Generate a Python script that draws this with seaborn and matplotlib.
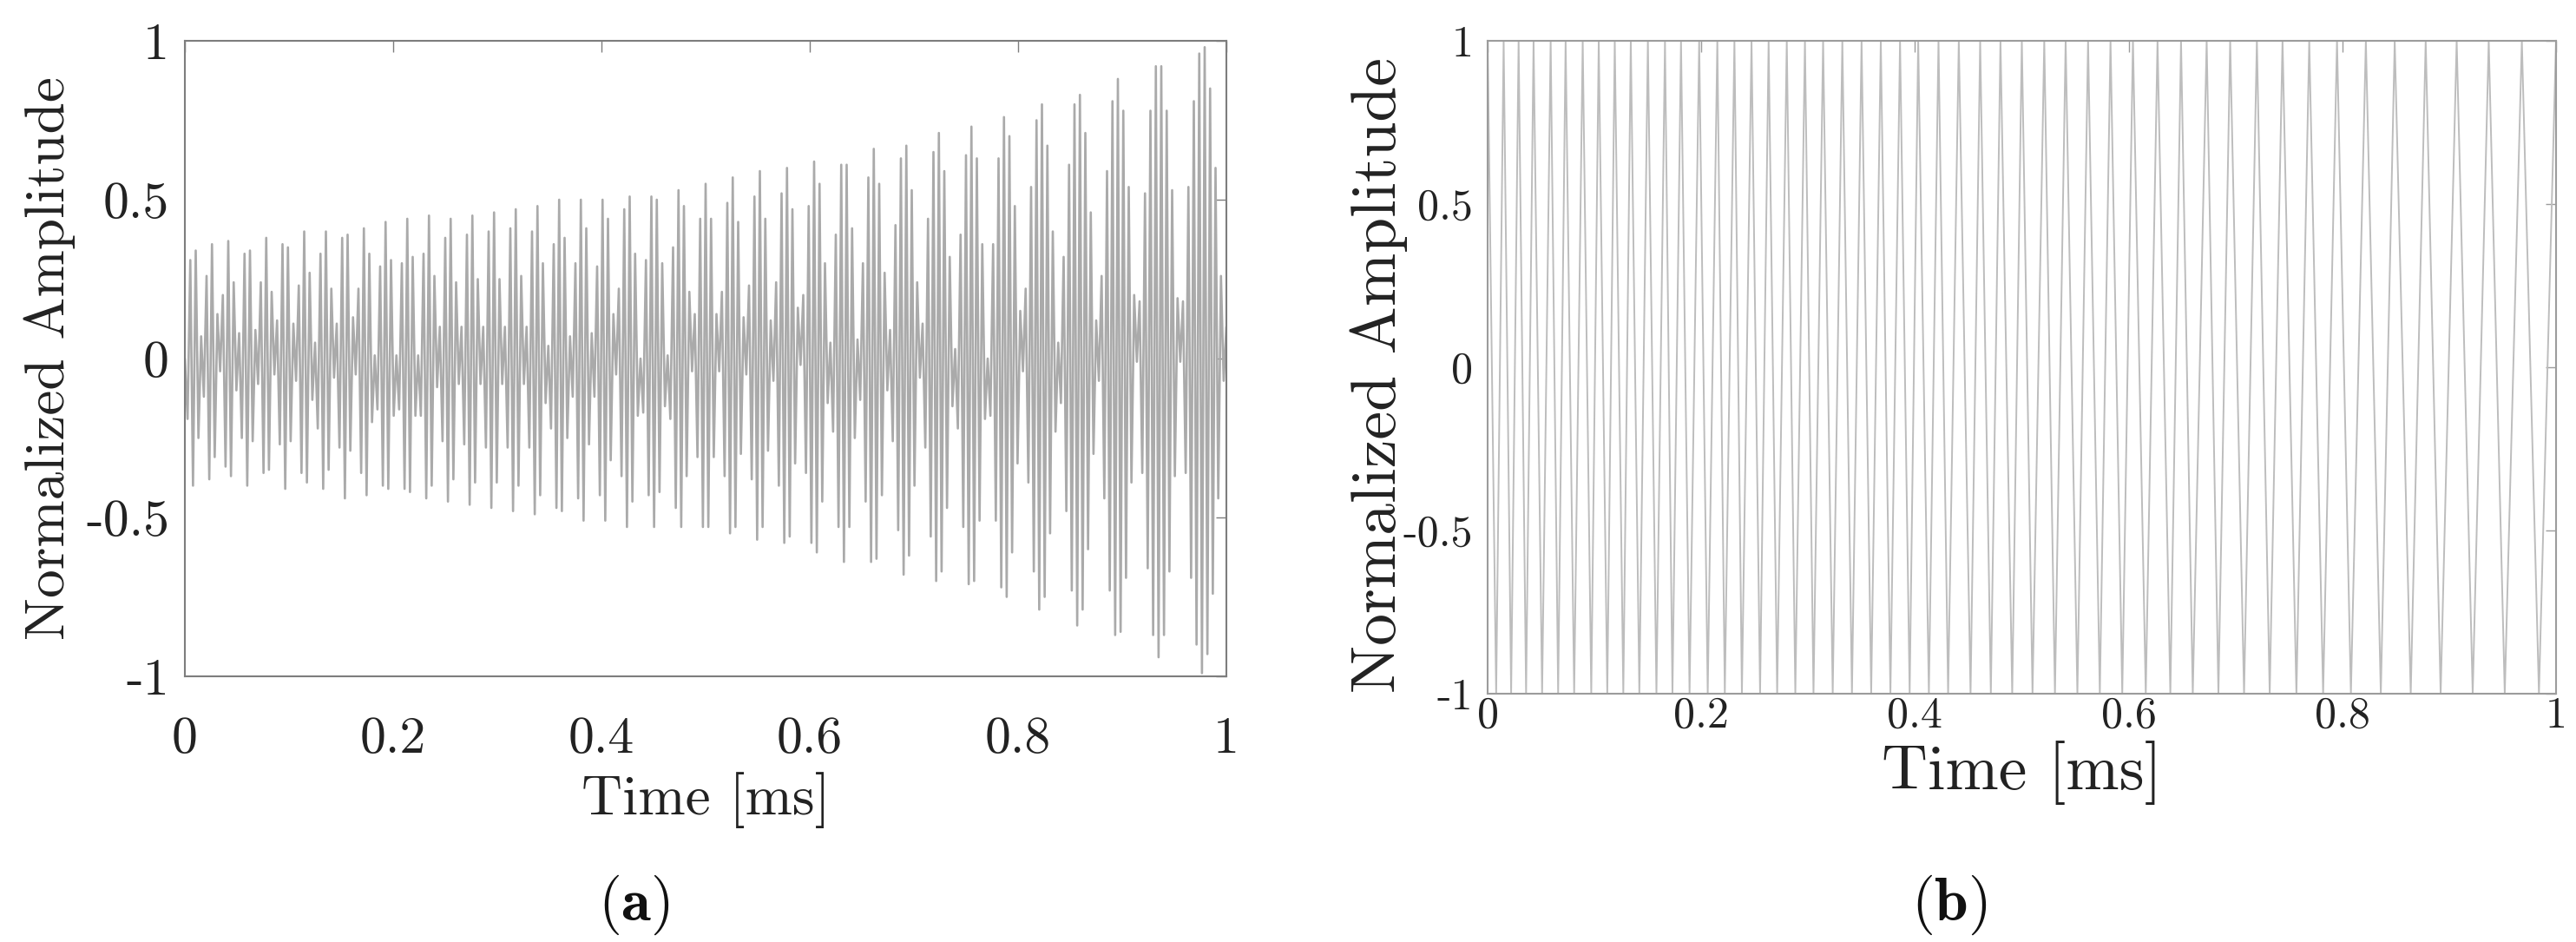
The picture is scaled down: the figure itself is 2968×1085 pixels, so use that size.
import numpy as np
import pandas as pd
import matplotlib
matplotlib.use("Agg")
import matplotlib.pyplot as plt
import seaborn as sns

# ---------------- data ----------------
# (a) successive extrema of the measured signal (uniform sampling of extrema over 0..1 ms)
a_values = [
    0.00, -0.19, 0.31, -0.40, 0.34, -0.25, 0.07,
    -0.12, 0.26, -0.38, 0.36, -0.31, 0.14,
    -0.04, 0.20, -0.34, 0.37, -0.37, 0.24, -0.10,
    0.08, -0.25, 0.33, -0.40, 0.34, -0.26, 0.09,
    -0.08, 0.24, -0.36, 0.38, -0.35, 0.21, -0.05,
    0.12, -0.27, 0.36, -0.41, 0.35, -0.26, 0.11,
    -0.07, 0.23, -0.36, 0.40, -0.39, 0.27, -0.13,
    0.05, -0.22, 0.33, -0.41, 0.40, -0.35, 0.22, -0.06,
    0.11, -0.28, 0.38, -0.44, 0.39, -0.29, 0.13,
    -0.05, 0.22, -0.36, 0.41, -0.43, 0.33, -0.20, 0.01,
    -0.16, 0.29, -0.40, 0.43, -0.41, 0.31, -0.18, 0.01,
    -0.16, 0.30, -0.41, 0.44, -0.42, 0.32, -0.18, 0.01,
    -0.18, 0.33, -0.44, 0.45, -0.40, 0.26, -0.09,
    0.10, -0.26, 0.38, -0.45, 0.44, -0.38, 0.24, -0.08,
    0.10, -0.27, 0.39, -0.46, 0.45, -0.39, 0.25, -0.08,
    0.10, -0.28, 0.40, -0.47, 0.46, -0.39, 0.25, -0.08,
    0.10, -0.28, 0.41, -0.48, 0.47, -0.40, 0.26, -0.08,
    0.10, -0.28, 0.40, -0.49, 0.48, -0.43, 0.30, -0.14,
    0.04, -0.22, 0.36, -0.47, 0.50, -0.48, 0.38, -0.25, 0.07,
    -0.12, 0.30, -0.44, 0.50, -0.51, 0.41, -0.27, 0.08,
    -0.12, 0.29, -0.43, 0.50, -0.51, 0.44, -0.32, 0.14,
    -0.05, 0.22, -0.37, 0.47, -0.53, 0.51, -0.45, 0.33, -0.18,
    0.00, -0.17, 0.31, -0.43, 0.51, -0.53, 0.50, -0.42, 0.30, -0.15,
    0.01, -0.19, 0.35, -0.47, 0.53, -0.53, 0.48, -0.37, 0.21, -0.04,
    0.14, -0.31, 0.44, -0.53, 0.55, -0.53, 0.44, -0.31, 0.14,
    -0.04, 0.21, -0.37, 0.49, -0.55, 0.57, -0.53, 0.43, -0.30, 0.13,
    -0.05, 0.23, -0.38, 0.51, -0.57, 0.59, -0.53, 0.44, -0.29, 0.12,
    -0.07, 0.24, -0.40, 0.52, -0.58, 0.60, -0.56, 0.47, -0.33, 0.16,
    -0.02, 0.20, -0.36, 0.48, -0.58, 0.62, -0.61, 0.55, -0.45, 0.30, -0.14,
    0.05, -0.23, 0.39, -0.53, 0.61, -0.64, 0.61, -0.53, 0.41, -0.25, 0.06,
    -0.13, 0.30, -0.45, 0.57, -0.64, 0.66, -0.63, 0.55, -0.43, 0.27, -0.10,
    0.09, -0.26, 0.42, -0.54, 0.63, -0.68, 0.67, -0.62, 0.53, -0.40, 0.24, -0.06,
    0.11, -0.28, 0.44, -0.56, 0.65, -0.70, 0.71, -0.67, 0.59, -0.47, 0.32, -0.15,
    0.03, -0.22, 0.39, -0.53, 0.64, -0.71, 0.73, -0.70, 0.63, -0.51, 0.36, -0.19,
    0.00, -0.18, 0.36, -0.51, 0.63, -0.72, 0.76, -0.75, 0.70, -0.61, 0.48, -0.33, 0.15,
    -0.04, 0.22, -0.39, 0.54, -0.67, 0.75, -0.79, 0.80, -0.75, 0.67, -0.55, 0.40, -0.23, 0.05,
    -0.14, 0.32, -0.48, 0.61, -0.73, 0.80, -0.84, 0.83, -0.79, 0.71, -0.60, 0.46, -0.30, 0.12,
    -0.07, 0.26, -0.44, 0.59, -0.73, 0.81, -0.87, 0.88, -0.86, 0.78, -0.69, 0.54, -0.39, 0.20, -0.01,
    0.18, -0.36, 0.52, -0.66, 0.78, -0.87, 0.92, -0.94, 0.92, -0.87, 0.78, -0.67, 0.53, -0.37, 0.19, -0.01,
    0.18, -0.36, 0.54, -0.69, 0.81, -0.90, 0.96, -0.99, 0.98, -0.93, 0.85, -0.74, 0.60, -0.44, 0.26, -0.07,
    0.10,
]

# (b) chirp: times [ms] of the maxima (+1) and minima (-1)
b_peak_times = [
    0.000, 0.015, 0.029, 0.043, 0.059, 0.073, 0.089, 0.104, 0.119, 0.134,
    0.150, 0.166, 0.181, 0.198, 0.215, 0.231, 0.247, 0.263, 0.280, 0.297,
    0.314, 0.332, 0.350, 0.368, 0.386, 0.403, 0.422, 0.441, 0.461, 0.480,
    0.500, 0.521, 0.541, 0.562, 0.583, 0.604, 0.627, 0.649, 0.673, 0.695,
    0.720, 0.744, 0.769, 0.795, 0.822, 0.849, 0.878, 0.907, 0.937, 0.968,
    1.000,
]
b_trough_times = [
    0.008, 0.022, 0.036, 0.051, 0.066, 0.081, 0.097, 0.112, 0.127, 0.142,
    0.158, 0.173, 0.189, 0.206, 0.222, 0.238, 0.255, 0.271, 0.288, 0.305,
    0.323, 0.341, 0.359, 0.377, 0.395, 0.413, 0.431, 0.452, 0.471, 0.491,
    0.510, 0.531, 0.552, 0.573, 0.594, 0.616, 0.639, 0.660, 0.684, 0.708,
    0.732, 0.757, 0.782, 0.808, 0.836, 0.864, 0.892, 0.922, 0.952, 0.984,
]

x_ticks = [0, 0.2, 0.4, 0.6, 0.8, 1]
x_tick_labels = ['0', '0.2', '0.4', '0.6', '0.8', '1']
y_ticks = [-1, -0.5, 0, 0.5, 1]
y_tick_labels = ['-1', '-0.5', '0', '0.5', '1']
x_label = 'Time [ms]'
y_label = 'Normalized Amplitude'
panel_tags = ['a', 'b']

# ---------------- style ----------------
sns.set_theme(style='white')
plt.rcParams['font.family'] = ['cmr10', 'DejaVu Serif']
plt.rcParams['mathtext.fontset'] = 'cm'
plt.rcParams['axes.unicode_minus'] = False
plt.rcParams['axes.formatter.use_mathtext'] = True

W, H = 2968, 1085
fig = plt.figure(figsize=(W / 100, H / 100), dpi=100)

def fx(px):
    return px / W

def fy(py):
    return 1 - py / H

axA = fig.add_axes([fx(213), fy(779), fx(1413) - fx(213), fy(47) - fy(779)])
axB = fig.add_axes([fx(1714), fy(799), fx(2945) - fx(1714), fy(47) - fy(799)])

# panel (a)
dfA = pd.DataFrame({'t': np.linspace(0, 1, len(a_values)), 'y': a_values})
sns.lineplot(data=dfA, x='t', y='y', ax=axA, color='#aaaaaa', linewidth=1.9,
             sort=False, estimator=None)

# panel (b)
b_t, b_y = [], []
for i, p in enumerate(b_peak_times):
    b_t.append(p)
    b_y.append(1.0)
    if i < len(b_trough_times):
        b_t.append(b_trough_times[i])
        b_y.append(-1.0)
dfB = pd.DataFrame({'t': b_t, 'y': b_y})
sns.lineplot(data=dfB, x='t', y='y', ax=axB, color='#bdbdbd', linewidth=1.4,
             sort=False, estimator=None)

specs = [
    # ax, tick size, label size, xpad, ypad, spine color, xlabel pos, ylabel pos
    (axA, 43, 47, 33, 13, '#7d7d7d', (813, 889), (87, 413)),
    (axB, 36, 53, 2, 12, '#9c9c9c', (2330, 853), (1622, 432)),
]
for ax, tfs, lfs, xpad, ypad, sc, xlp, ylp in specs:
    ax.set_xlim(0, 1)
    ax.set_ylim(-1, 1)
    ax.set_xticks(x_ticks)
    ax.set_xticklabels(x_tick_labels)
    ax.set_yticks(y_ticks)
    ax.set_yticklabels(y_tick_labels)
    ax.tick_params(axis='both', direction='in', top=True, right=True,
                   length=9, width=1.0, color=sc, labelcolor='#222222',
                   labelsize=tfs)
    ax.tick_params(axis='x', pad=xpad)
    ax.tick_params(axis='y', pad=ypad)
    for s in ax.spines.values():
        s.set_visible(True)
        s.set_color(sc)
        s.set_linewidth(1.5)
    ax.set_xlabel(x_label, fontsize=lfs, color='#222222')
    ax.set_ylabel(y_label, fontsize=lfs, color='#222222')
    ax.xaxis.set_label_coords(fx(xlp[0]), fy(xlp[1]), transform=fig.transFigure)
    ax.yaxis.set_label_coords(fx(ylp[0]), fy(ylp[1]), transform=fig.transFigure)
    ax.grid(False)

fig.text(fx(730), fy(1042), r'$(\mathbf{%s})$' % panel_tags[0], ha='center', va='center',
         fontsize=50, color='#111111')
fig.text(fx(2246), fy(1042), r'$(\mathbf{%s})$' % panel_tags[1], ha='center', va='center',
         fontsize=50, color='#111111')

fig.savefig('out.png', dpi=100, facecolor='white')
